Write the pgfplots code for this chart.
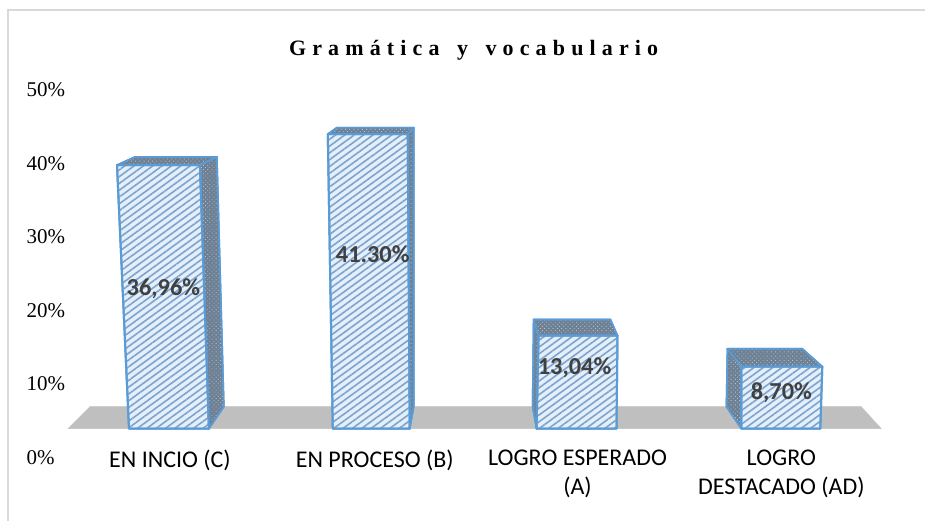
\documentclass[border=0pt]{standalone}
\usepackage{pgfplots}
\pgfplotsset{compat=1.18}
\usepackage{fontspec}
\usetikzlibrary{patterns.meta}
\setmainfont{Liberation Serif}
\newfontfamily\calfont{Carlito}
\newfontfamily\titlefont[LetterSpace=28,WordSpace=1.5]{Liberation Serif}
\definecolor{edge}{HTML}{5B9BD5}
\definecolor{facebg}{HTML}{E3EFFA}
\definecolor{stripe}{HTML}{7FA3CC}
\definecolor{darkbg}{HTML}{6E8094}
\definecolor{floorc}{HTML}{BFBFBF}
\pgfplotsset{frame/.style={scale only axis,width=926pt,height=521pt,xmin=0,xmax=926,
  axis line style={draw=none},major tick length=0pt,clip=false}}
\tikzset{
 front/.style={draw=edge,line width=2pt,fill=facebg,line join=round,
   postaction={pattern={Lines[angle=36,distance=5.5pt,line width=1.6pt]},pattern color=stripe}},
 dark/.style={draw=edge,line width=1.6pt,fill=darkbg,line join=round,
   postaction={pattern={Dots[angle=45,distance=3pt,radius=0.6pt]},pattern color=facebg!60!darkbg}}}
\begin{document}
\begin{tikzpicture}
% value axis, with its labels
\begin{axis}[frame,ymin=-8.56,ymax=62.23,
  xtick={170,375,578,782},
  xticklabels={EN INCIO (C),EN PROCESO (B),LOGRO ESPERADO\\(A),LOGRO\\DESTACADO (AD)},
  xticklabel style={font=\calfont\fontsize{24}{29}\selectfont,align=center,anchor=north,yshift=74pt},
  ytick={0,10,20,30,40,50},
  yticklabels={0\%,10\%,20\%,30\%,40\%,50\%},
  yticklabel style={font=\fontsize{21}{24}\selectfont,anchor=west,xshift=23pt}]
\addplot[draw=floorc,fill=floorc] coordinates {(68,3.94)(882,3.94)(862,6.93)(90,6.93)} --cycle;
\draw[draw=black!15,line width=1.6pt] (axis cs:926,60.87) -- (axis cs:8,60.87) -- (axis cs:8,-8.56);
\end{axis}
% bars: y = value, base at the floor
\begin{axis}[frame,ymin=-12.885,ymax=60.084,xtick=\empty,ytick=\empty]
% bar 1, 36.96
\addplot[dark] coordinates {(200,36.96)(217,38.1)(224,3.1)(209,0)} --cycle;
\addplot[dark] coordinates {(117,36.96)(200,36.96)(217,38.1)(135,38.1)} --cycle;
\addplot[front] coordinates {(117,36.96)(200,36.96)(209,0)(129,0)} --cycle;
% bar 2, 41.30
\addplot[dark] coordinates {(408,41.30)(414,42.2)(414,3.1)(410,0)} --cycle;
\addplot[dark] coordinates {(328,41.30)(408,41.30)(414,42.2)(337,42.2)} --cycle;
\addplot[front] coordinates {(328,41.30)(408,41.30)(410,0)(333,0)} --cycle;
% bar 3, 13.04
\addplot[dark] coordinates {(534,15.3)(539,13.04)(537,0)(533,3.1)} --cycle;
\addplot[dark] coordinates {(534,15.3)(611,15.3)(618,13.04)(539,13.04)} --cycle;
\addplot[front] coordinates {(539,13.04)(618,13.04)(617,0)(537,0)} --cycle;
% bar 4, 8.70
\addplot[dark] coordinates {(728,11.2)(742,8.70)(742,0)(727,3.1)} --cycle;
\addplot[dark] coordinates {(728,11.2)(803,11.2)(823,8.70)(742,8.70)} --cycle;
\addplot[front] coordinates {(742,8.70)(823,8.70)(821,0)(742,0)} --cycle;
\node[font=\calfont\bfseries\fontsize{24.4}{28}\selectfont,text=black!75] at (axis cs:163.5,19.6) {36,96\%};
\node[font=\calfont\bfseries\fontsize{24.4}{28}\selectfont,text=black!75] at (axis cs:373,24.4) {41.30\%};
\node[font=\calfont\bfseries\fontsize{24.4}{28}\selectfont,text=black!75] at (axis cs:575,8.6) {13,04\%};
\node[font=\calfont\bfseries\fontsize{24.4}{28}\selectfont,text=black!75] at (axis cs:782,5.1) {8,70\%};
\node[font=\titlefont\bfseries\fontsize{22}{26}\selectfont] at (axis cs:474,53.05) {Gramática y vocabulario};
\end{axis}
\end{tikzpicture}
\end{document}
